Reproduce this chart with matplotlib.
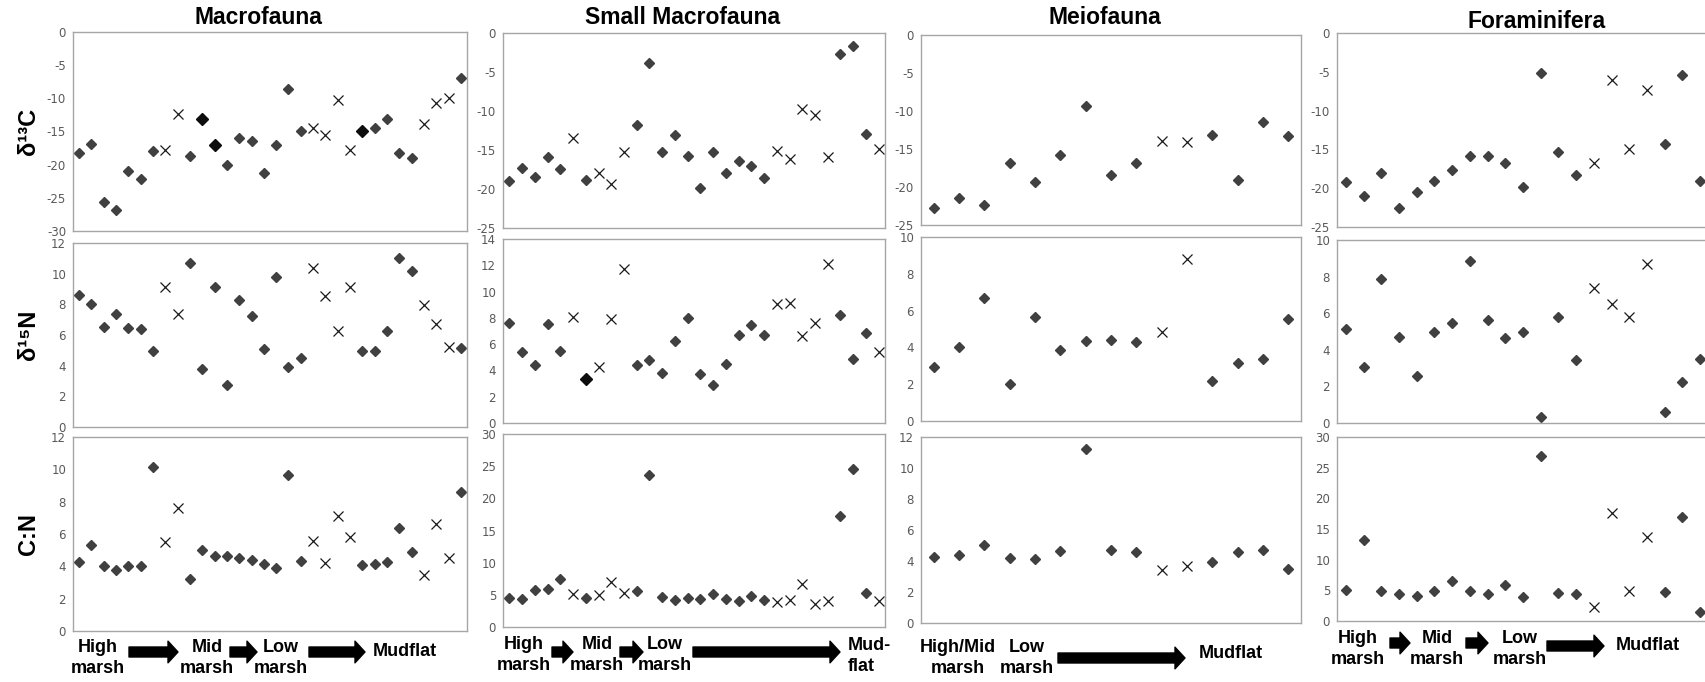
import numpy as np
import matplotlib.pyplot as plt
from matplotlib.ticker import MultipleLocator

W, H = 1705, 682

# ---- data (sample order along the marsh-to-mudflat gradient) ----
taxa = ['Macrofauna', 'Small Macrofauna', 'Meiofauna', 'Foraminifera']

macro_d13c = [-18.2, -16.9, -25.6, -26.8, -20.9, -22.1, -17.9, -17.8, -12.4, -18.7,
              -13.1, -17.1, -20.1, -16.0, -16.5, -21.3, -17.0, -8.6, -15.0, -14.4,
              -15.6, -10.2, -17.8, -15.0, -14.4, -13.1, -18.3, -19.0, -13.9, -10.7,
              -9.9, -7.0]
macro_d15n = [8.58, 8.01, 6.52, 7.34, 6.45, 6.37, 4.98, 9.12, 7.39, 10.72,
              3.81, 9.16, 2.73, 8.30, 7.26, 5.11, 9.81, 3.92, 4.51, 10.37,
              8.56, 6.24, 9.10, 4.96, 4.96, 6.28, 11.05, 10.18, 7.93, 6.74,
              5.24, 5.13]
macro_cn = [4.29, 5.30, 4.03, 3.76, 4.05, 4.03, 10.15, 5.53, 7.62, 3.23,
            5.03, 4.62, 4.62, 4.50, 4.38, 4.13, 3.88, 9.68, 4.36, 5.59,
            4.23, 7.09, 5.81, 4.11, 4.17, 4.25, 6.39, 4.91, 3.49, 6.62,
            4.52, 8.59]
macro_cross = [8, 9, 20, 21, 22, 23, 29, 30, 31]

small_d13c = [-19.0, -17.3, -18.4, -15.9, -17.5, -13.5, -18.8, -18.0, -19.3, -15.3,
              -11.8, -3.9, -15.3, -13.1, -15.8, -19.9, -15.2, -18.0, -16.4, -17.1,
              -18.6, -15.1, -16.1, -9.7, -10.5, -15.9, -2.7, -1.7, -13.0, -14.9]
small_d15n = [7.59, 5.37, 4.43, 7.53, 5.50, 8.09, 3.36, 4.28, 7.94, 11.71,
              4.43, 4.76, 3.77, 6.21, 7.97, 3.72, 2.88, 4.48, 6.69, 7.46,
              6.69, 9.04, 9.11, 6.64, 7.61, 12.11, 8.25, 4.86, 6.87, 5.40]
small_cn = [4.50, 4.36, 5.71, 5.97, 7.47, 5.19, 4.52, 4.93, 6.95, 5.35,
            5.60, 23.56, 4.67, 4.26, 4.57, 4.36, 5.09, 4.36, 4.05, 4.77,
            4.15, 3.94, 4.26, 6.64, 3.63, 4.10, 17.18, 24.60, 5.35, 4.00]
small_cross = [6, 8, 9, 10, 22, 23, 24, 25, 26, 30]

meio_d13c = [-22.8, -21.4, -22.4, -16.9, -19.3, -15.8, -9.4, -18.4, -16.8, -14.0,
             -14.1, -13.2, -19.1, -11.5, -13.3]
meio_d15n = [2.93, 4.00, 6.67, 2.00, 5.65, 3.87, 4.36, 4.40, 4.29, 4.85,
             8.80, 2.16, 3.16, 3.38, 5.55]
meio_cn = [4.28, 4.37, 5.01, 4.17, 4.15, 4.62, 11.25, 4.73, 4.56, 3.44,
           3.66, 3.94, 4.60, 4.73, 3.48]
meio_cross = [10, 11]

foram_d13c = [-19.2, -21.0, -18.1, -22.5, -20.5, -19.1, -17.7, -15.9, -15.8, -16.7,
              -19.9, -5.2, -15.3, -18.3, -16.8, -6.1, -15.0, -7.3, -14.3, -5.4,
              -19.1]
foram_d15n = [5.13, 3.07, 7.85, 4.69, 2.55, 5.00, 5.46, 8.85, 5.62, 4.64,
              4.96, 0.35, 5.80, 3.45, 7.37, 6.53, 5.77, 8.70, 0.58, 2.23,
              3.47]
foram_cn = [5.07, 13.15, 4.91, 4.47, 4.15, 4.91, 6.49, 4.91, 4.47, 5.95,
            3.93, 26.9, 4.58, 4.36, 2.29, 17.6, 4.91, 13.75, 4.80, 16.97,
            1.47]
foram_cross = [15, 16, 17, 18]

# darker diamonds (sample number, row)
dark_points = {'Macrofauna': [(11, 0), (12, 0), (24, 0)],
               'Small Macrofauna': [(7, 1)]}

row_labels = ['δ¹³C', 'δ¹⁵N', 'C:N']

series = {
    'Macrofauna': [macro_d13c, macro_d15n, macro_cn],
    'Small Macrofauna': [small_d13c, small_d15n, small_cn],
    'Meiofauna': [meio_d13c, meio_d15n, meio_cn],
    'Foraminifera': [foram_d13c, foram_d15n, foram_cn],
}
crosses = {'Macrofauna': macro_cross, 'Small Macrofauna': small_cross,
           'Meiofauna': meio_cross, 'Foraminifera': foram_cross}

# y ranges and tick steps per panel
ylims = {
    'Macrofauna': [(-30, 0, 5), (0, 12, 2), (0, 12, 2)],
    'Small Macrofauna': [(-25, 0, 5), (0, 14, 2), (0, 30, 5)],
    'Meiofauna': [(-25, 0, 5), (0, 10, 2), (0, 12, 2)],
    'Foraminifera': [(-25, 0, 5), (0, 10, 2), (0, 30, 5)],
}

# ---- layout in pixels ----
col_x = {'Macrofauna': (73, 467), 'Small Macrofauna': (503, 885),
         'Meiofauna': (921, 1301), 'Foraminifera': (1337, 1709)}
row_y = {'Macrofauna': [(32, 231), (243, 427), (437, 631)],
         'Small Macrofauna': [(33, 228), (239, 423), (434, 627)],
         'Meiofauna': [(35, 225), (237, 421), (437, 623)],
         'Foraminifera': [(33, 227), (240, 423), (437, 621)]}
title_pos = {'Macrofauna': (258, 18), 'Small Macrofauna': (683, 18),
             'Meiofauna': (1105, 18), 'Foraminifera': (1537, 22)}

zone_text = {
    'Macrofauna': [('High\nmarsh', 98, 658, 'center'), ('Mid\nmarsh', 207, 658, 'center'),
                   ('Low\nmarsh', 281, 658, 'center'), ('Mudflat', 405, 651, 'center')],
    'Small Macrofauna': [('High\nmarsh', 524, 655, 'center'), ('Mid\nmarsh', 597, 655, 'center'),
                         ('Low\nmarsh', 665, 655, 'center'), ('Mud-\nflat', 848, 656, 'left')],
    'Meiofauna': [('High/Mid\nmarsh', 958, 658, 'center'), ('Low\nmarsh', 1027, 658, 'center'),
                  ('Mudflat', 1231, 654, 'center')],
    'Foraminifera': [('High\nmarsh', 1358, 649, 'center'), ('Mid\nmarsh', 1437, 649, 'center'),
                     ('Low\nmarsh', 1520, 649, 'center'), ('Mudflat', 1648, 645, 'center')],
}
zone_arrows = {
    'Macrofauna': [(129, 178, 652), (230, 257, 652), (309, 365, 652)],
    'Small Macrofauna': [(552, 573, 652), (620, 643, 652), (693, 840, 652)],
    'Meiofauna': [(1058, 1185, 658)],
    'Foraminifera': [(1390, 1410, 643), (1466, 1488, 643), (1547, 1604, 646)],
}

FONT = ['Liberation Sans', 'DejaVu Sans']
TICK_COL = '#595959'
FRAME_COL = '#a6a6a6'

plt.rcParams['axes.unicode_minus'] = False

fig = plt.figure(figsize=(W / 100, H / 100), dpi=100)

for taxon in taxa:
    x0, x1 = col_x[taxon]
    for r in range(3):
        y0, y1 = row_y[taxon][r]
        ax = fig.add_axes([x0 / W, 1 - y1 / H, (x1 - x0) / W, (y1 - y0) / H])
        vals = np.array(series[taxon][r])
        n = len(vals)
        x = np.arange(1, n + 1)
        is_x = np.isin(x, crosses[taxon])
        dark = [s for s, rr in dark_points.get(taxon, []) if rr == r]
        is_dark = np.isin(x, dark)
        norm = ~is_x & ~is_dark
        ax.plot(x[norm], vals[norm], 'D', ms=5.4, color='#404040', mec='#404040')
        ax.plot(x[is_dark], vals[is_dark], 'D', ms=5.8, color='#0d0d0d', mec='#0d0d0d')
        ax.plot(x[is_x], vals[is_x], 'x', ms=7.5, mew=0.9, color='#1a1a1a')

        lo, hi, step = ylims[taxon][r]
        ax.set_ylim(lo, hi)
        ax.yaxis.set_major_locator(MultipleLocator(step))
        ax.set_xlim(0.5, n + 0.5)
        ax.set_xticks([])
        ax.tick_params(axis='y', length=0, pad=5, labelsize=8.5, labelcolor=TICK_COL)
        for lab in ax.get_yticklabels():
            lab.set_fontfamily('DejaVu Sans')
        for sp in ax.spines.values():
            sp.set_color(FRAME_COL)
            sp.set_linewidth(1.0)

        if taxon == 'Macrofauna':
            yc = (y0 + y1) / 2
            fig.text(28 / W, 1 - yc / H, row_labels[r], rotation=90, ha='center', va='center',
                     fontsize=17, fontweight='bold', family=FONT)

    tx, ty = title_pos[taxon]
    fig.text(tx / W, 1 - ty / H, taxon, ha='center', va='center',
             fontsize=16.5, fontweight='bold', family=FONT)

    for txt, px, py, ha in zone_text[taxon]:
        fig.text(px / W, 1 - py / H, txt, ha=ha, va='center', multialignment=ha,
                 fontsize=13, fontweight='bold', family=FONT, linespacing=1.3)

    for ax0, ax1, ay in zone_arrows[taxon]:
        fig.add_artist(plt.matplotlib.patches.FancyArrowPatch(
            (ax0, H - ay), (ax1, H - ay), transform=None,
            arrowstyle='simple,head_length=0.6,head_width=1.3,tail_width=0.6',
            mutation_scale=12, color='black', shrinkA=0, shrinkB=0))

fig.savefig('out.png', dpi=100, facecolor='white')
